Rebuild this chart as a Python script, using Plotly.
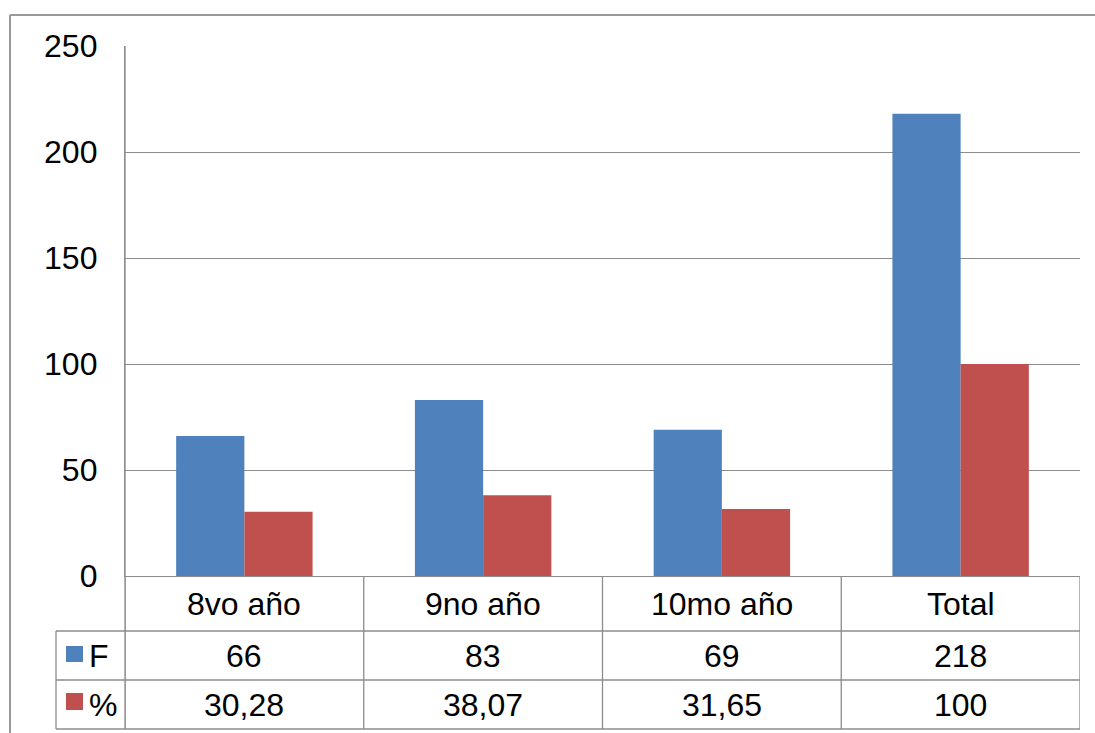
import plotly.graph_objects as go

# Datos de la tabla
cursos = ["8vo año", "9no año", "10mo año", "Total"]
frecuencia = [66, 83, 69, 218]
porcentaje = [30.28, 38.07, 31.65, 100]
series = ["F", "%"]
colores = ["#4F81BD", "#C0504D"]
y_ticks = [0, 50, 100, 150, 200, 250]

W, H = 1095, 733
L, R, T, B = 125, 1080, 46, 576  # plot area in pixels
FONT = "Liberation Sans, Arial, sans-serif"
FS = 32
LINE = "#8C8C8C"


def px(x):
    return (x - L) / (R - L)


def py(y):
    return (B - y) / (B - T)


def fmt(v):
    if float(v).is_integer():
        return str(int(v))
    return f"{v:.2f}".replace(".", ",")


fig = go.Figure()
for name, vals, col in zip(series, [frecuencia, porcentaje], colores):
    fig.add_trace(go.Bar(x=cursos, y=vals, name=name, marker=dict(color=col, line=dict(width=0))))

shapes = []
annotations = []

# table rows (pixel y of horizontal rules)
row_cat_top, row_f_top, row_p_top, row_bottom = 576, 631, 680, 729
legend_left = 56

# horizontal rules of the data table
for yy in (row_f_top, row_p_top, row_bottom):
    shapes.append(dict(type="line", xref="paper", yref="paper", x0=px(legend_left), x1=1,
                       y0=py(yy), y1=py(yy), line=dict(color=LINE, width=1.3)))
# vertical rules at category boundaries
for i in range(len(cursos) + 1):
    shapes.append(dict(type="line", xref="x", yref="paper", x0=i - 0.5, x1=i - 0.5,
                       y0=py(row_cat_top), y1=py(row_bottom), line=dict(color=LINE, width=1.3)))
# axis line extended down through the table
shapes.append(dict(type="line", xref="paper", yref="paper", x0=0, x1=0,
                   y0=1, y1=py(row_bottom), line=dict(color=LINE, width=1.3)))
# legend column left edge
shapes.append(dict(type="line", xref="paper", yref="paper", x0=px(legend_left), x1=px(legend_left),
                   y0=py(row_f_top), y1=py(row_bottom), line=dict(color=LINE, width=1.3)))
# outer chart frame
shapes.append(dict(type="line", xref="paper", yref="paper", x0=px(10), x1=px(W + 5),
                   y0=py(15), y1=py(15), line=dict(color="#999999", width=2)))
shapes.append(dict(type="line", xref="paper", yref="paper", x0=px(10), x1=px(10),
                   y0=py(15), y1=py(H + 5), line=dict(color="#999999", width=2)))

# legend keys
for (y0, y1), col, name, label_y in zip([(646, 662), (693, 710)], colores, series,
                                         [(row_f_top + row_p_top) / 2, (row_p_top + row_bottom) / 2]):
    shapes.append(dict(type="rect", xref="paper", yref="paper", x0=px(66), x1=px(83),
                       y0=py(y0), y1=py(y1), fillcolor=col, line=dict(width=0)))
    annotations.append(dict(xref="paper", yref="paper", x=px(87), y=py(label_y), text=name,
                            showarrow=False, xanchor="left", yanchor="middle",
                            font=dict(family=FONT, size=FS, color="black")))

# cell texts
for i, c in enumerate(cursos):
    annotations.append(dict(xref="x", yref="paper", x=i, y=py((row_cat_top + row_f_top) / 2),
                            text=c, showarrow=False, xanchor="center", yanchor="middle",
                            font=dict(family=FONT, size=FS, color="black")))
    for vals, (a, b) in zip([frecuencia, porcentaje], [(row_f_top, row_p_top), (row_p_top, row_bottom)]):
        annotations.append(dict(xref="x", yref="paper", x=i, y=py((a + b) / 2),
                                text=fmt(vals[i]), showarrow=False, xanchor="center", yanchor="middle",
                                font=dict(family=FONT, size=FS, color="black")))

fig.update_layout(
    width=W, height=H,
    margin=dict(l=L, r=W - R, t=T, b=H - B, pad=0),
    paper_bgcolor="white", plot_bgcolor="white",
    barmode="group", bargap=1.5 / 3.5, bargroupgap=0,
    showlegend=False,
    font=dict(family=FONT, size=FS, color="black"),
    shapes=shapes, annotations=annotations,
    xaxis=dict(showticklabels=False, showgrid=False, showline=True, linecolor=LINE, linewidth=1.3,
               range=[-0.5, len(cursos) - 0.5], zeroline=False, ticks=""),
    yaxis=dict(range=[0, 250], tickvals=y_ticks, showgrid=True, gridcolor=LINE, gridwidth=1.3,
               showline=True, linecolor=LINE, linewidth=1.3, zeroline=False, ticks="",
               ticklabelstandoff=20, tickfont=dict(family=FONT, size=FS, color="black")),
)

fig.write_html("out.html")
